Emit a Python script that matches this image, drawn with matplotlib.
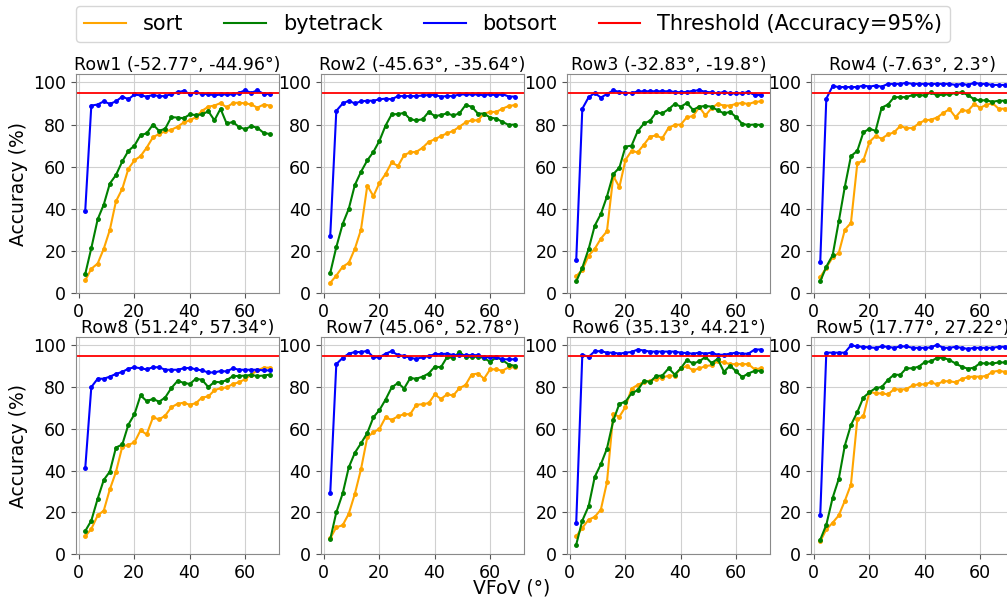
import numpy as np
import matplotlib.pyplot as plt
from matplotlib.lines import Line2D

# VFoV sample points (degrees)
vfov = [2.3, 4.5, 6.8, 9.0, 11.2, 13.4, 15.7, 17.9, 20.1, 22.3, 24.5, 26.8, 29.0, 31.2,
        33.4, 35.7, 37.9, 40.1, 42.3, 44.5, 46.8, 49.0, 51.2, 53.4, 55.7, 57.9, 60.1,
        62.3, 64.5, 66.8, 69.0]

row_titles = {
    'Row1': '(-52.77°, -44.96°)',
    'Row2': '(-45.63°, -35.64°)',
    'Row3': '(-32.83°, -19.8°)',
    'Row4': '(-7.63°, 2.3°)',
    'Row5': '(17.77°, 27.22°)',
    'Row6': '(35.13°, 44.21°)',
    'Row7': '(45.06°, 52.78°)',
    'Row8': '(51.24°, 57.34°)',
}

# accuracy (%) per tracker, per row
sort_acc = {
    'Row1': [6, 11.5, 14, 21, 30, 43.5, 49.5, 59, 63, 65, 69, 74, 75.5, 76.8, 77.5, 79,
             81, 82, 83.5, 86.5, 88.5, 89, 90.2, 88.2, 90.2, 90.4, 90, 89.6, 88, 89.5, 89],
    'Row2': [4.8, 8.3, 12.5, 14.3, 21, 30, 51, 46, 52.3, 56.5, 62, 60.3, 65.5, 66.8, 67, 69,
             71.8, 73, 74.5, 75.8, 77, 79, 81, 82, 82, 85.2, 86, 86, 87.5, 88.8, 89.2],
    'Row3': [8, 11, 17.8, 21, 25.8, 29.3, 55.5, 50.3, 63.2, 67.5, 66.8, 70.5, 74.3, 74.8,
             73.5, 78.5, 79.8, 80, 83.5, 84, 88.3, 84.3, 87.8, 89.8, 89, 89, 89.8, 90.3,
             89.7, 90.7, 91],
    'Row4': [7.5, 12, 17, 19, 30, 33.3, 61.5, 63, 71.8, 74.5, 73.3, 75.3, 76.3, 79.3, 78.3,
             78.3, 80.5, 82, 82.3, 83.3, 85.5, 87.3, 83.5, 86.8, 86.5, 89.7, 88, 89.3, 90.2,
             87.5, 87.5],
    'Row5': [6, 11.8, 15, 18.5, 25.5, 33.3, 64.5, 66, 77.8, 77, 77, 76.5, 79, 78.8, 79,
             80.8, 81.3, 81.3, 82.3, 81.3, 82.8, 82.8, 82.3, 83.8, 84.8, 85, 85, 85.3, 87.3,
             87.8, 87.3],
    'Row6': [8.5, 12.5, 16.5, 17.8, 21.3, 34.3, 67, 65.8, 70.5, 79.3, 81, 82.5, 83, 84,
             84.5, 85.5, 85.5, 89, 90, 88, 89, 90, 90.5, 92.3, 91.8, 91, 91, 91, 91, 88.5, 89],
    'Row7': [7.5, 12.8, 13.8, 19.3, 28.8, 40.5, 56, 58.3, 60, 65.5, 64.3, 66, 67, 67, 71.5,
             71.8, 72.3, 76.5, 74.3, 76.5, 76, 79.5, 81, 86, 86.5, 84, 88.5, 88.5, 87.8, 89.5,
             89.5],
    'Row8': [8.5, 12, 18.5, 20.8, 31, 39.3, 51.5, 52.3, 53.5, 59.3, 57.3, 65.5, 64.5, 66.3,
             70.3, 72, 72.5, 71.5, 72.3, 75, 75.5, 78.5, 79.5, 79.8, 81.5, 82.3, 83.8, 86, 88,
             89.3, 89.3],
}

bytetrack_acc = {
    'Row1': [9, 21.3, 35, 42, 52, 56, 62.5, 67.5, 70, 75, 75.8, 80, 77, 78, 83.5, 83.3, 83,
             84.8, 84.5, 84.8, 86.3, 82, 87.5, 80.5, 81.2, 78.8, 77.8, 79.2, 78.5, 76, 75.5],
    'Row2': [9.5, 21.8, 32.8, 40, 51.3, 57.5, 63, 67, 72.3, 79.5, 84.8, 85, 85.5, 82.5, 82,
             82.5, 86, 84, 84.5, 85.3, 84.3, 85.3, 89.2, 88.5, 85.2, 85.2, 83.3, 82.8, 81.3,
             79.8, 80],
    'Row3': [5.5, 12, 21, 32, 37.5, 45.8, 56.5, 59.5, 69.5, 70, 76.8, 80.5, 81.8, 85.8, 85.3,
             87.3, 89.8, 88.5, 90.2, 87, 88.5, 88.8, 88.5, 86.8, 85.3, 86, 83.5, 80.3, 79.8,
             80, 79.8],
    'Row4': [5.5, 12.5, 18, 34, 50.5, 65, 67.5, 76.3, 78, 77, 88, 89.5, 93, 93, 93, 94, 94,
             93.8, 95.3, 93.8, 94.3, 94.3, 95, 95.3, 94, 92, 91.5, 91.5, 90.8, 91.3, 91.3],
    'Row5': [6.8, 14, 27, 36, 52, 61.8, 68, 75, 77.5, 79.5, 80, 83.5, 86, 85.8, 89, 89, 89.8,
             92, 92.3, 94, 94, 93, 91.3, 89.8, 88.8, 89.3, 91.5, 91.3, 91.3, 91.8, 91.8],
    'Row6': [4.5, 16, 23, 37, 43, 50.5, 64, 72, 73, 77, 78.5, 83, 82.5, 85.3, 85.5, 89, 86,
             89, 93, 91.3, 92.3, 94.5, 91.5, 93.5, 87.3, 90.3, 87.5, 84.8, 86.5, 87.8, 87.8],
    'Row7': [7, 20, 29, 41.5, 48.5, 53, 58, 65.5, 69, 74, 79.8, 82, 79.3, 84.3, 84, 85, 86.5,
             89.8, 89.5, 94.3, 94, 96.8, 94.5, 94.5, 94.5, 94, 92, 94.3, 93, 90.8, 90.2],
    'Row8': [11, 16, 26.5, 35.5, 39.5, 51, 52.5, 62, 67, 76, 73.3, 74.3, 73, 75, 79.5, 83, 82,
             81.5, 84, 83.5, 80, 82.5, 82.3, 83.3, 85.3, 85.3, 85.5, 85.8, 85.3, 85.5, 86],
}

botsort_acc = {
    'Row1': [39, 89, 89.5, 91, 89.8, 91, 93.3, 92, 94.3, 93.8, 93.3, 94, 93.5, 93.5, 94.5,
             95.3, 96, 94.5, 95.3, 94.5, 94.5, 93.8, 94.3, 94.3, 94.3, 95, 96.3, 95, 96.3,
             94.5, 94.5],
    'Row2': [27, 86.5, 90, 91.3, 90, 91, 91.3, 91.3, 92, 92.3, 92, 93.5, 93.5, 93.5, 93.5,
             93.8, 94, 94, 93.3, 93.5, 93.5, 94.3, 94.3, 94.3, 94.3, 93.8, 94.5, 93.8, 94.5,
             93.3, 93.3],
    'Row3': [15.5, 87.5, 93, 95, 92.8, 94.5, 96.2, 95.5, 95, 95, 95.7, 95.8, 95.8, 95.8, 95.8,
             95.8, 95.5, 95.3, 95.5, 96, 96.3, 95.5, 95.3, 94.8, 95.5, 94.8, 94.8, 94.8, 95.5,
             94, 94],
    'Row4': [14.5, 92.3, 98.3, 97.8, 97.8, 97.8, 97.8, 98.5, 98, 98.5, 98, 99.3, 99.3, 99.3,
             99.8, 99.3, 99.3, 99.3, 99.3, 99.3, 99.3, 99.3, 98.8, 99.3, 98.8, 99.8, 99.3,
             99.3, 98.8, 98.8, 98.8],
    'Row5': [18.5, 96.5, 96.5, 96.5, 96.5, 100, 99.5, 99.3, 99, 98.8, 99.5, 99.3, 98.8, 99.5,
             99.5, 98.8, 98.8, 98.8, 99, 100.3, 98.8, 98.8, 99.3, 98.8, 98.3, 98.8, 98.8,
             98.8, 98.8, 99.3, 99.3],
    'Row6': [15, 95.5, 94.5, 97.2, 97.2, 96.5, 96.5, 96, 96.5, 96.8, 98, 97.5, 97, 97, 97, 97,
             97, 96.5, 96.3, 96, 96.5, 96, 96.5, 95.5, 95.5, 96, 96.5, 96, 96, 98, 98],
    'Row7': [29, 91, 94, 96, 96.8, 96.8, 97.3, 94.3, 94.3, 96, 97.2, 95.3, 95, 94, 93.5, 94.3,
             94.8, 95.8, 95.8, 96, 95.3, 95.3, 95.3, 95.3, 95.3, 94.3, 94.3, 94.3, 93.3, 93.3,
             93.3],
    'Row8': [41, 80, 84, 84, 85, 86.3, 87.3, 88.8, 89.5, 89, 88.5, 89.5, 89.5, 88.3, 88.3,
             88.3, 89, 89.2, 88.5, 88, 87, 87, 87.7, 87.5, 89, 88.3, 88.3, 88.3, 88.3, 88, 88],
}

threshold = 95
panel_order = [['Row1', 'Row2', 'Row3', 'Row4'],
               ['Row8', 'Row7', 'Row6', 'Row5']]

W, H = 1007, 599
fig = plt.figure(figsize=(W / 100, H / 100), dpi=100)

col_left = [76, 321, 567, 811]
row_box = [(74, 293), (337, 554)]  # (top, bottom) in pixels
ax_w = 203

for r, names in enumerate(panel_order):
    top, bottom = row_box[r]
    for c, name in enumerate(names):
        ax = fig.add_axes([col_left[c] / W, 1 - bottom / H, ax_w / W, (bottom - top) / H])
        ax.plot(vfov, sort_acc[name], color='orange', marker='o', markersize=2.5, linewidth=1.5)
        ax.plot(vfov, bytetrack_acc[name], color='green', marker='o', markersize=2.5, linewidth=1.5)
        ax.plot(vfov, botsort_acc[name], color='blue', marker='o', markersize=2.5, linewidth=1.5)
        ax.axhline(threshold, color='red', linewidth=1.3)
        ax.set_ylim(0, 104)
        ax.set_xticks([0, 20, 40, 60])
        ax.set_yticks([0, 20, 40, 60, 80, 100])
        ax.tick_params(labelsize=12.5, color='#555555', length=3.5)
        ax.grid(True, color='#d0d0d0', linewidth=0.8)
        ax.set_axisbelow(True)
        for s in ax.spines.values():
            s.set_color('#8a8a8a')
        ax.set_title(f'{name} {row_titles[name]}', fontsize=12.5, pad=3)
        if c == 0:
            ax.set_ylabel('Accuracy (%)', fontsize=13.5)

fig.text(512 / W, 1 - 588 / H, 'VFoV (°)', fontsize=13.5, ha='center', va='center')

handles = [Line2D([], [], color='orange', linewidth=1.5),
           Line2D([], [], color='green', linewidth=1.5),
           Line2D([], [], color='blue', linewidth=1.5),
           Line2D([], [], color='red', linewidth=1.5)]
labels = ['sort', 'bytetrack', 'botsort', 'Threshold (Accuracy=95%)']
fig.legend(handles, labels, loc='center', bbox_to_anchor=(513 / W, 1 - 24 / H),
           ncol=4, fontsize=15, frameon=True, handlelength=2.0, columnspacing=2.0,
           borderpad=0.4, handletextpad=0.8)

fig.savefig('out.png', dpi=100)
